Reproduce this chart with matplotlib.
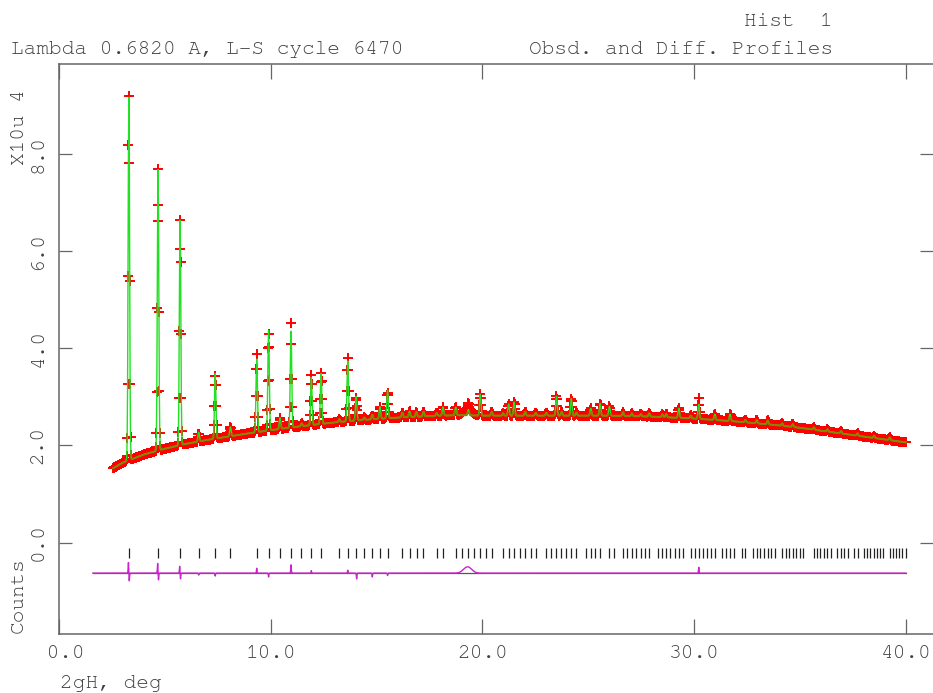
import numpy as np
import matplotlib
matplotlib.use("Agg")
import matplotlib.pyplot as plt
import logging
logging.getLogger('matplotlib.font_manager').setLevel(logging.ERROR)

plt.rcParams['font.family'] = ['Courier New', 'Nimbus Mono PS', 'FreeMono',
                               'Liberation Mono', 'DejaVu Sans Mono']

# ---------------- data ----------------
# background under the profile (2theta deg, counts x10^4)
bkg_x = [2.56, 3.0, 4.0, 5.0, 6.0, 7.0, 8.0, 9.0, 10.0, 11.0, 12.0, 13.0, 14.0,
         15.0, 16.0, 17.0, 18.0, 19.0, 20.0, 22.0, 24.0, 26.0, 27.0, 28.0, 29.0,
         30.0, 31.0, 32.0, 33.0, 34.0, 35.0, 36.0, 37.0, 38.0, 39.0, 40.0]
bkg_y = [1.53, 1.64, 1.81, 1.93, 2.03, 2.11, 2.18, 2.25, 2.31, 2.37, 2.42, 2.47, 2.51,
         2.54, 2.57, 2.59, 2.61, 2.62, 2.61, 2.61, 2.61, 2.61, 2.60, 2.59, 2.57,
         2.55, 2.52, 2.49, 2.45, 2.41, 2.36, 2.30, 2.24, 2.18, 2.12, 2.06]

# Bragg peaks: position (deg) and calculated height above background (x10^4)
peak_pos = [3.30, 4.68, 5.72, 6.60, 7.38, 8.10, 9.34, 9.90, 10.44, 10.96, 11.46, 11.92,
            12.38, 13.24, 13.64, 14.04, 14.42, 14.80, 15.16, 15.52, 16.22, 16.56, 16.88,
            17.22, 17.84, 18.14, 18.74, 19.34, 19.90, 20.44, 20.98, 21.24, 21.50, 22.02,
            22.52, 23.02, 23.50, 23.74, 24.20, 24.44, 25.12, 25.56, 26.00, 26.64, 27.06,
            27.48, 27.88, 28.50, 28.68, 29.28, 29.84, 30.22, 30.98, 31.70, 32.42, 32.96,
            33.48, 34.16, 34.66, 35.66, 36.30, 36.94, 37.72, 38.50, 39.24]
peak_height = [7.47, 5.78, 4.63, 0.19, 1.34, 0.19, 1.50, 2.06, 0.23, 1.98, 0.06, 0.98,
               1.04, 0.06, 1.24, 0.50, 0.05, 0.10, 0.25, 0.58, 0.10, 0.12, 0.10,
               0.10, 0.06, 0.18, 0.17, 0.12, 0.44, 0.08, 0.05, 0.24, 0.28, 0.08,
               0.06, 0.06, 0.40, 0.08, 0.35, 0.06, 0.15, 0.25, 0.19, 0.08, 0.06,
               0.05, 0.07, 0.06, 0.07, 0.20, 0.06, 0.30, 0.12, 0.14, 0.05, 0.07,
               0.08, 0.05, 0.06, 0.05, 0.05, 0.05, 0.05, 0.05, 0.06]
peak_fwhm = 0.08
step = 0.02

# obs - calc features (position, amplitude, fwhm)
diff_pos = [3.28, 3.32, 4.66, 4.70, 5.70, 5.74, 6.60, 7.38, 9.34, 9.90, 10.96, 11.92,
            13.64, 14.06, 14.80, 15.52, 19.30, 30.22]
diff_amp = [0.22, -0.16, 0.20, -0.14, 0.14, -0.12, -0.04, -0.06, 0.10, -0.08, 0.17, 0.05,
            0.06, -0.12, -0.08, -0.05, 0.13, 0.12]
diff_fwhm = [0.03, 0.03, 0.03, 0.03, 0.03, 0.03, 0.03, 0.03, 0.03, 0.03, 0.03, 0.03,
             0.03, 0.03, 0.03, 0.03, 0.45, 0.03]
diff_offset = -0.63
diff_start = 1.60

# reflection positions (deg)
refl_pos = [3.30, 4.67, 5.72, 6.60, 7.38, 8.09, 9.34, 9.91, 10.45, 10.96, 11.45, 11.92,
            12.37, 13.23, 13.64, 14.03, 14.42, 14.80, 15.17, 15.52, 16.22, 16.56, 16.89,
            17.21, 17.84, 18.15, 18.75, 19.04, 19.33, 19.62, 19.90, 20.18, 20.45, 20.99,
            21.25, 21.51, 21.77, 22.02, 22.28, 22.52, 23.02, 23.26, 23.50, 23.73, 23.97,
            24.20, 24.43, 24.89, 25.11, 25.34, 25.56, 25.99, 26.21, 26.64, 26.85, 27.06,
            27.27, 27.47, 27.68, 27.88, 28.29, 28.49, 28.68, 28.88, 29.08, 29.27, 29.47,
            29.85, 30.04, 30.23, 30.42, 30.60, 30.79, 30.98, 31.34, 31.53, 31.71, 31.89,
            32.24, 32.42, 32.78, 32.95, 33.12, 33.30, 33.47, 33.64, 33.81, 34.15, 34.32,
            34.49, 34.66, 34.83, 34.99, 35.16, 35.65, 35.81, 35.97, 36.13, 36.30, 36.46,
            36.77, 36.93, 37.09, 37.25, 37.56, 37.72, 38.03, 38.18, 38.33, 38.49, 38.64,
            38.79, 38.94, 39.24, 39.39, 39.54, 39.69, 39.84, 39.99]
refl_y = [-0.12, -0.31]

x_ticks = [0.0, 10.0, 20.0, 30.0, 40.0]
x_tick_labels = [" 0.0", "10.0", "20.0", "30.0", "40.0"]
y_ticks = [0.0, 2.0, 4.0, 6.0, 8.0]
y_tick_labels = ["0.0", "2.0", "4.0", "6.0", "8.0"]

title_left = "Lambda 0.6820 A, L-S cycle 6470"
title_right = "Obsd. and Diff. Profiles"
hist_label = "Hist  1"
x_label = "2gH, deg"
y_label_top = "X10u 4"
y_label_bottom = "Counts"

# ---------------- build profile from the tables ----------------
def gauss(x, p, w):
    return np.exp(-4.0 * np.log(2.0) * ((x - p) / w) ** 2)

tt = np.round(np.arange(bkg_x[0], bkg_x[-1] + step / 2, step), 4)
bkg = np.interp(tt, bkg_x, bkg_y)
peaks = np.zeros_like(tt)
for p, h in zip(peak_pos, peak_height):
    peaks += h * gauss(tt, p, peak_fwhm)
calc = bkg + peaks

tt_d = np.round(np.arange(diff_start, bkg_x[-1] + step / 2, step), 4)
diff = np.zeros_like(tt_d)
for p, a, w in zip(diff_pos, diff_amp, diff_fwhm):
    diff += a * gauss(tt_d, p, w)
obs = calc + np.interp(tt, tt_d, diff)

# ---------------- figure ----------------
W, H = 933, 693
fig = plt.figure(figsize=(W / 100, H / 100), dpi=100)
ax = fig.add_axes([59 / W, (H - 633.5) / H, (W - 59) / W, (633.5 - 64) / H])

txt_col = '#404040'
ax_col = '#666666'
fs = 15.2

# reflection markers
ax.vlines(refl_pos, refl_y[0], refl_y[1], color='#222222', lw=0.9, zorder=2)
# difference curve
ax.plot([diff_start, bkg_x[-1]], [diff_offset, diff_offset], color='#555555', lw=0.9, zorder=2)
ax.plot(tt_d, diff + diff_offset, color='#cc22cc', lw=1.0, zorder=3)
# observed
ax.plot(tt, obs, ls='none', marker='+', ms=7, mew=1.4, color='#ff0000', zorder=4)
# calculated
ax.plot(tt, calc, color='#22e022', lw=1.0, zorder=5)
calc_band = np.ma.masked_where(peaks > 0.09, calc)
ax.plot(tt, calc_band, color='#808a00', lw=1.4, zorder=6)

ax.set_xlim(0, (W - 59) / 21.17)
ax.set_ylim(-(633.5 - 542.5) / 48.6, (542.5 - 64) / 48.6)

ax.set_xticks(x_ticks)
ax.set_xticklabels(x_tick_labels)
ax.set_yticks(y_ticks)
ax.set_yticklabels(y_tick_labels, rotation=90, va='center')
ax.tick_params(axis='x', direction='in', length=11, width=0.9, top=True, bottom=True,
               pad=8, labelsize=fs, color=ax_col, labelcolor=txt_col)
ax.tick_params(axis='y', direction='in', length=9.5, width=0.9, left=True, right=True,
               pad=9, labelsize=fs, color=ax_col, labelcolor=txt_col)
for s in ['left', 'top', 'bottom']:
    ax.spines[s].set_color(ax_col)
    ax.spines[s].set_linewidth(1.1)
ax.spines['right'].set_visible(False)

fig.text(833 / W, 1 - 21.7 / H, hist_label, ha='right', va='center', fontsize=fs, color=txt_col)
fig.text(10.7 / W, 1 - 49.5 / H, title_left, ha='left', va='center', fontsize=fs, color=txt_col)
fig.text(833 / W, 1 - 49.5 / H, title_right, ha='right', va='center', fontsize=fs, color=txt_col)
fig.text(19 / W, 1 - 127 / H, y_label_top, ha='center', va='center', rotation=90, fontsize=fs, color=txt_col)
fig.text(18 / W, 1 - 595 / H, y_label_bottom, ha='center', va='center', rotation=90, fontsize=fs, color=txt_col)
fig.text(60 / W, 1 - 688 / H, x_label, ha='left', va='baseline', fontsize=fs, color=txt_col)

fig.savefig('out.png', dpi=100)
